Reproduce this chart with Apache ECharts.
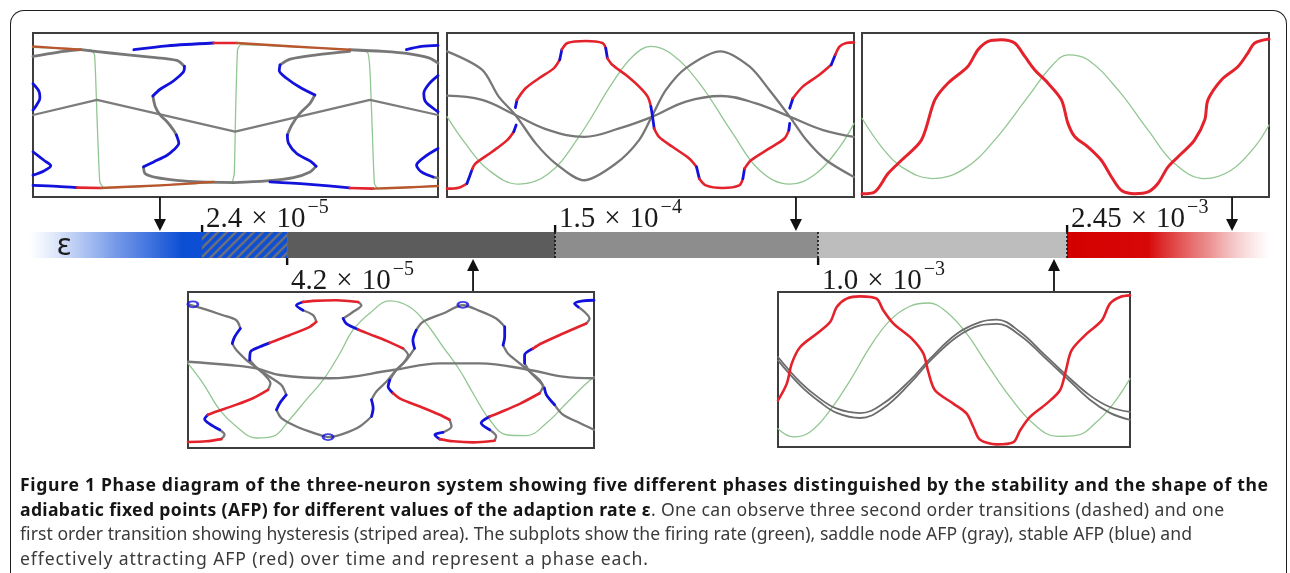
<!DOCTYPE html>
<html><head><meta charset="utf-8">
<script src="https://cdn.jsdelivr.net/npm/echarts@6/dist/echarts.min.js"></script>
<style>
html,body{margin:0;padding:0;background:#fff;}
#wrap{position:relative;width:1290px;height:573px;overflow:hidden;background:#fff;}
#chart{position:absolute;left:0;top:0;width:1290px;height:573px;}
#frame{position:absolute;left:10px;top:10px;width:1275px;height:600px;border:1.6px solid #1e1e1e;border-bottom:none;border-radius:14px 14px 0 0;pointer-events:none;}
#cap{position:absolute;left:20px;top:472px;font-family:'Noto Sans','Open Sans',sans-serif;font-size:16px;line-height:24.7px;color:#3a3a3a;white-space:nowrap;}
#cap .ln{display:table;height:24.7px;}
#cap b{color:#151515;}
</style></head><body>
<div id="wrap"><div id="chart"></div><div id="frame"></div>
<div id="cap">
<div class="ln" data-w="1248"><b>Figure 1 Phase diagram of the three-neuron system showing five different phases distinguished by the stability and the shape of the</b></div>
<div class="ln" data-w="1204"><b>adiabatic fixed points (AFP) for different values of the adaption rate ε</b>. One can observe three second order transitions (dashed) and one</div>
<div class="ln" data-w="1172">first order transition showing hysteresis (striped area). The subplots show the firing rate (green), saddle node AFP (gray), stable AFP (blue) and</div>
<div class="ln" data-w="628">effectively attracting AFP (red) over time and represent a phase each.</div>
</div></div>
<script>
// ---------------- DATA (time 0..100, value 0..100) ----------------
// Subplot 1 (top-left, eps below 2.4e-5)
const p1Green = [[0,91.2],[8.5,90.4],[14.2,89.8],[15.2,86.7],[15.8,49],[16.5,9.2],[17.5,5.7],[29.0,6.7],[44.6,8.8],[49.1,9.2],[49.7,14.3],[50.0,49],[50.5,89.8],[51.3,92.9],[65.9,91.4],[78.2,89.8],[82.6,88.2],[83.2,77.1],[83.8,38.8],[84.3,8.2],[85.2,5.1],[100,6.7]];
const p1Zigzag = [[0,50],[15.8,59.2],[49.9,39.8],[83.2,59.2],[100,50]];
const p1FoldL = [[11.7,89.8,'s'],[19.1,87.8,'k'],[29.0,85.3,'k'],[35.5,83.3,'k'],[37.4,79.6,'k'],[37.2,76.5,'b'],[35.5,72.4,'b'],[33.9,69.4,'b'],[31.4,65.7,'b'],[29.6,61.6,'b'],[30.2,55.1,'k'],[31.4,50,'k'],[33.1,45.9,'k'],[34.7,40.8,'k'],[35.4,37.8,'k'],[36.0,32.7,'b'],[34.7,28.6,'b'],[33.1,25.5,'b'],[29.8,21.4,'b'],[27.3,18.4,'b'],[27.7,14.3,'k'],[30.6,11.8,'k'],[35.5,10.2,'k'],[41.3,9.2,'k'],[49.5,8.8,'k']];
const p1FoldM = [[78.2,88.8,'s'],[70.0,86.7,'k'],[63.5,84.1,'k'],[61.0,80.6,'k'],[60.8,77.1,'b'],[62.6,72.4,'b'],[65.9,66.9,'b'],[69.6,62.2,'b'],[68.4,57.1,'k'],[65.9,51.0,'k'],[63.9,43.9,'k'],[62.8,37.8,'k'],[63.1,32.7,'b'],[65.1,26.5,'b'],[68.4,22.0,'b'],[69.9,18.8,'b'],[68.4,15.3,'k'],[64.3,11.8,'k'],[57.7,9.8,'k'],[49.5,8.8,'k']];
const p1GrayTopL = [[0,85.7,'s'],[6,88.2,'k'],[11.7,89.8,'k']];
const p1GrayTopR = [[78.2,89.8,'s'],[86.5,88.8,'k'],[93.0,87.3,'k'],[97.9,84.7,'k'],[100,81.6,'k']];
const p1EdgeL1 = [[0,69,'s'],[1.5,64.3,'b'],[1.7,60.2,'b'],[0.9,56.1,'b'],[0,53,'b']];
const p1EdgeL2 = [[0,27.6,'s'],[2.7,22.4,'b'],[4.4,19.0,'b'],[2.7,15.9,'b'],[0,13.3,'b']];
const p1EdgeR1 = [[100,74,'s'],[97.8,69,'b'],[96.5,63.3,'b'],[96.9,58.2,'b'],[98.8,54.1,'b'],[100,52,'b']];
const p1EdgeR2 = [[100,29.6,'s'],[96.7,24.5,'b'],[94.7,19.4,'b'],[95.9,15.3,'b'],[98.8,12.2,'b'],[100,11.5,'k']];
const p1Top = [[24.9,89.8,'s'],[33.1,92.2,'b'],[44.6,93.9,'b'],[50.3,93.9,'r'],[64.3,91.8,'o'],[78.2,89.8,'o']];
const p1TopL = [[0,91.8,'s'],[6.0,90.8,'o'],[11.7,89.8,'o']];
const p1TopR = [[92.2,89.8,'s'],[95.9,91.8,'b'],[100,92.4,'b']];
const p1Bottom = [[0,7.1,'s'],[6.0,6.5,'b'],[10.9,5.7,'b'],[16.7,5.5,'r'],[31.4,7.1,'o'],[44.6,9.2,'o']];
const p1Bottom2 = [[58.5,9.2,'s'],[67.6,7.8,'b'],[78.2,5.5,'b'],[84.0,5.1,'r'],[92,5.8,'o'],[100,6.7,'o']];

// Subplot 2 (top-middle)
const p2Green = [[0,49],[4.5,32.7],[10.3,16.3],[17.7,7.8],[25.0,14.3],[32.4,36.7],[40.6,69.4],[45.6,85.7],[50.1,91.8],[55.4,86.7],[62.0,69.4],[70.2,38.8],[76.8,16.3],[84.2,7.8],[90.7,14.3],[96.5,30.6],[100,44.9]];
const p2GrayA = [[0,88.8],[8.6,77.6],[12.7,61.2],[16.8,50],[21.8,32.7],[26.7,20.4],[33.7,10.2],[41.5,20.4],[47.2,34.7],[50.5,50],[53.8,65.3],[58.7,78.6],[67.2,88.8],[74.3,79.6],[79.2,65.3],[84.2,49],[88.3,34.7],[93.2,22.4],[100,12.2]];
const p2GrayB = [[0,61.8],[8.6,59.2],[16.8,50],[25.0,40.8],[33.7,36.7],[42.3,41.8],[50.5,49],[58.7,58.2],[67.3,61.6],[75.9,57.1],[84.2,49],[92.4,40.8],[100,36.7]];
const p2Afp1 = [[0,5.1,'s'],[2.9,5.7,'r'],[4.9,8.2,'r'],[5.5,12.2,'b'],[6.2,17,'b'],[7.0,20.4,'r'],[11.1,27.6,'r'],[14.8,34.7,'r'],[16.4,39.8,'r'],[17.0,43.9,'b']];
const p2Afp2 = [[16.8,54.5,'s'],[17.2,59.2,'b'],[19.3,66.3,'r'],[22.6,72.4,'r'],[26.3,78.6,'r'],[27.7,83.7,'r'],[28.2,89.8,'b'],[29.6,93.9,'r'],[34.1,95.1,'r'],[38.2,93.9,'r'],[39.0,90.8,'r'],[39.4,84.7,'b'],[40.6,80.6,'r'],[43.9,74.5,'r'],[47.2,67.3,'r'],[49.3,61.2,'r'],[50.1,55.1,'r'],[50.5,49.0,'b'],[50.9,41.8,'b'],[52.1,36.7,'r'],[55.4,30.6,'r'],[59.5,23.5,'r'],[61.3,18.4,'r'],[62.0,11.2,'b'],[63.6,7.1,'r'],[67.7,5.5,'r'],[71.8,7.1,'r'],[72.7,11.2,'r'],[73.1,17.3,'b'],[74.7,22.4,'r'],[79.2,29.6,'r'],[82.9,35.7,'r'],[84.0,40.8,'r'],[84.2,44.9,'b']];
const p2Afp3 = [[84.2,54.1,'s'],[85.0,60.2,'b'],[87.4,67.3,'r'],[91.5,74.5,'r'],[94.4,80.6,'r'],[95.4,86.7,'b'],[96.5,91.8,'r'],[98.1,93.9,'r'],[100,94.3,'r']];

// Subplot 3 (top-right)
const p3Green = [[0,48],[4.8,30.6],[9.7,18.4],[17.4,11.2],[25.2,17.3],[32.6,34.7],[40.8,61.2],[46.5,79.6],[50.6,86.7],[55.5,83.7],[62.9,65.3],[70.3,40.8],[76.8,20.4],[84.2,11.2],[90.7,16.3],[96.5,30.6],[100,43.9]];
const p3Red = [[0,2.0],[3.1,3.1],[6.4,14.3],[9.7,22.4],[14.6,34.7],[17.9,59.2],[21.1,69.4],[26.0,79.6],[28.5,89.8],[31.0,94.9],[34.2,95.9],[37.5,93.9],[40.0,85.7],[42.4,77.6],[45.7,69.4],[49.0,59.2],[50.6,44.9],[52.3,36.7],[55.5,30.6],[58.8,22.4],[61.3,12.2],[63.7,4.1],[67.0,2.0],[70.3,3.1],[72.7,8.2],[75.2,18.4],[78.5,26.5],[81.7,34.7],[84.2,46.9],[85.0,59.2],[88.3,71.4],[92.4,79.6],[94.8,87.8],[96.5,93.9],[100,96.3]];

// Subplot 4 (bottom-left)
const p4Green = [[0,54.3],[3.7,41.5],[7.8,24.5],[11.9,13.8],[16.8,6.4],[20.9,7.4],[25.0,18.1],[29.1,30.9],[33.3,43.6],[37.4,60.6],[40.6,75.5],[44.7,86.2],[49.7,94.3],[54.6,90.4],[58.7,79.8],[62.8,64.9],[66.9,50],[70.2,35.1],[74.3,18.1],[78.4,8.5],[83.3,7.9],[88.3,16.0],[93.2,28.7],[97.3,39.4],[100,45.7]];
const p4GrayFlat = [[0,55.3],[10.3,53.2],[16.8,51.1],[22.6,46.8],[34.9,44.7],[50.5,50],[62.0,54.3],[71.8,54.3],[84.2,50],[92.4,45.7],[100,44.7]];
const p4Afp = [[0,3.8,'s'],[4.5,4.3,'r'],[8.2,5.7,'r'],[9.0,8.5,'k'],[7.8,11.7,'k'],[5.3,15.5,'b'],[4.1,18.5,'b'],[4.9,21.3,'b'],[7.0,23.4,'r'],[11.1,27.0,'r'],[16.0,31.9,'r'],[19.7,37.2,'r'],[20.3,41.5,'k'],[18.9,46.8,'k'],[16.8,51.7,'k'],[15.2,56.4,'k'],[15.4,61.7,'b'],[17.7,64.9,'b'],[20.1,67.4,'b'],[25.0,72.3,'r'],[30.0,77.7,'r'],[31.6,80.9,'r'],[30.8,85.1,'k'],[28.3,88.3,'k'],[26.7,91.5,'b'],[28.3,93.6,'b'],[30.8,94.3,'r'],[36.5,94.7,'r'],[41.9,93.6,'r'],[42.7,91.5,'k'],[40.6,87.2,'k'],[38.2,83.0,'k'],[39.0,79.8,'b'],[41.9,76.0,'b'],[43.9,73.8,'r'],[48.9,68.7,'r'],[53.0,63.8,'r'],[54.2,59.6,'k'],[53.0,54.3,'k'],[51.3,50.0,'k'],[49.7,43.6,'k'],[49.3,39.4,'b'],[50.5,35.1,'b'],[52.5,31.3,'r'],[57.1,26.6,'r'],[62.0,21.3,'r'],[64.4,18.1,'r'],[64.9,13.8,'k'],[62.8,10.0,'k'],[60.8,8.5,'b'],[62.0,5.7,'b'],[65.3,4.3,'r'],[70.2,3.6,'r'],[75.5,4.7,'r'],[75.9,7.4,'k'],[74.3,11.7,'k'],[72.2,16.0,'b'],[74.3,20.2,'b'],[76.8,22.8,'r'],[81.7,28.3,'r'],[86.6,35.1,'r'],[87.4,39.4,'k'],[85.8,44.7,'k'],[84.2,48.9,'k'],[82.9,54.3,'k'],[82.9,59.6,'b'],[85.0,63.8,'b'],[87.0,67.0,'r'],[92.4,73.4,'r'],[98.1,79.8,'r'],[98.9,83.0,'k'],[97.7,87.2,'k'],[96.1,90.4,'k'],[95.2,92.6,'b'],[97.3,94.3,'b'],[100,94.7,'b']];
const p4Saddle = [[0,92.1,'s'],[3.7,89.4,'k'],[8.6,85.1,'k'],[11.9,81.9,'k'],[12.9,76.6,'k'],[11.5,71.3,'b'],[10.9,67.0,'b'],[11.9,62.8,'k'],[14.4,56.4,'k'],[16.8,51.7,'k'],[20.1,45.7,'k'],[23.0,40.4,'k'],[24.2,34.0,'k'],[22.6,28.7,'b'],[21.8,24.5,'b'],[23.0,19.1,'k'],[26.7,13.8,'k'],[31.6,9.1,'k'],[34.5,7.0,'k'],[38.2,9.1,'k'],[42.3,13.8,'k'],[45.2,20.2,'k'],[45.6,25.5,'b'],[45.2,30.9,'b'],[46.4,36.2,'k'],[48.9,42.6,'k'],[50.9,48.9,'k'],[53.8,56.4,'k'],[55.8,63.8,'k'],[55.4,69.1,'b'],[56.2,75.5,'b'],[57.9,80.9,'k'],[62.8,86.2,'k'],[67.7,91.5,'k'],[71.8,87.9,'k'],[75.9,83.0,'k'],[78.0,77.7,'k'],[78.0,71.3,'b'],[77.6,66.0,'b'],[78.8,60.6,'k'],[81.7,54.3,'k'],[84.2,48.9,'k'],[86.6,43.6,'k'],[87.8,38.3,'k'],[88.3,34.0,'b'],[90.3,27.7,'b'],[92.4,21.3,'k'],[96.5,16.0,'k'],[100,11.7,'k']];
const p4Loops = [[34.5,7.0],[67.7,91.8],[1.2,92.1]];

// Subplot 5 (bottom-right)
const p5Green = [[0,11.8],[4.4,6.5],[9.1,9.7],[14.8,23.7],[20.5,43.0],[26.1,64.5],[31.8,81.7],[37.5,90.8],[42.7,92.9],[47.9,87.1],[53.6,73.1],[59.3,53.8],[65.9,32.3],[72.5,15.1],[79.2,6.9],[84.8,7.5],[90.5,16.1],[95.3,28.0],[100,44.1]];
const p5Red = [[0,30.1],[2.5,40.9],[3.9,53.8],[6.3,64.5],[11.0,73.1],[14.8,80.6],[16.7,90.3],[19.5,95.7],[23.3,97.2],[28.0,95.7],[29.9,88.2],[32.8,79.6],[38.0,69.9],[41.3,60.2],[42.7,48.4],[44.6,36.6],[49.8,28.0],[53.6,21.5],[55.5,12.9],[57.4,4.7],[62.1,1.7],[66.9,3.2],[68.8,10.8],[71.6,19.4],[76.3,28.0],[80.1,36.6],[81.8,49.5],[83.4,62.4],[87.7,73.1],[92.0,81.7],[94.3,92.5],[97.2,96.8],[100,97.8]];
const p5Gray1 = [[0,58.1],[6.3,41.9],[11.9,31.2],[16.7,24.7],[23.3,21.9],[29.9,28.0],[37.5,43.0],[43.2,57.0],[50.8,73.1],[57.4,80.6],[62.1,82.2],[68.8,74.2],[75.4,60.2],[82.0,46.2],[88.6,33.3],[94.3,25.8],[100,22.6]];
const p5Gray2 = [[0,55.9],[6.3,39.8],[11.9,29.0],[16.7,22.0],[23.3,18.7],[29.9,25.0],[37.5,41.0],[43.2,55.5],[50.8,71.0],[57.4,78.5],[62.1,79.5],[68.8,72.0],[75.4,58.5],[82.0,44.5],[88.6,30.5],[94.3,22.0],[100,17.5]];

// Phase bar (schematic epsilon axis 0..100)
const phaseEdges = [0, 13.87, 20.73, 42.34, 63.55, 83.63, 100];
const transitionPos = [13.87, 20.73, 42.34, 63.55, 83.63];
const transitionMant = ['2.4', '4.2', '1.5', '1.0', '2.45'];
const transitionExp = ['−5', '−5', '−4', '−3', '−3'];
const transitionSide = [1, -1, 1, -1, 1];
const transitionDashed = [0, 0, 1, 1, 1];
const arrowPos = [10.48, 35.73, 61.77, 82.58, 96.94];
const arrowDir = [1, -1, 1, -1, 1];

// ---------------- STYLES / BUILD ----------------
const STY = {
  k:{color:'#777777', width:2.3, z:3},
  b:{color:'#1212dc', width:2.8, z:4},
  r:{color:'#e3222c', width:2.6, z:4},
  o:{color:'#b8562e', width:2.4, z:4},
  g:{color:'#92c692', width:1.3, z:2}
};
function mk(gi, data, c, smooth, ov) {
  const s = Object.assign({}, STY[c], ov || {});
  return {type:'line', xAxisIndex:gi, yAxisIndex:gi, data:data, symbol:'none', showSymbol:false,
    smooth:smooth, lineStyle:{color:s.color, width:s.width, cap:'round', join:'round'},
    z:s.z, silent:true, animation:false};
}
function pathSeries(gi, pts, smooth, ov) {
  const out = []; let run = null, col = null;
  for (let i = 1; i < pts.length; i++) {
    const c = pts[i][2];
    if (c !== col) { if (run) out.push(mk(gi, run, col, smooth, ov)); run = [[pts[i-1][0], pts[i-1][1]]]; col = c; }
    run.push([pts[i][0], pts[i][1]]);
  }
  if (run) out.push(mk(gi, run, col, smooth, ov));
  return out;
}

const gridBoxes = [
  {left:33, top:33, width:405, height:164},
  {left:447, top:33, width:407, height:164},
  {left:862, top:33, width:407, height:164},
  {left:188, top:292, width:406, height:156},
  {left:778, top:292, width:352, height:155}
];
const grids = gridBoxes.map(g => Object.assign({show:true, borderColor:'#3d3d3d', borderWidth:2, backgroundColor:'#fff', containLabel:false}, g));
grids.push({left:30, top:232, width:1240, height:26, show:false});
const xAxes = grids.map((g, i) => ({gridIndex:i, type:'value', min:0, max:100, show:false}));
const yAxes = grids.map((g, i) => ({gridIndex:i, type:'value', min:0, max:(i === 5 ? 1 : 100), show:false}));

let series = [];
// subplot 1
series.push(mk(0, p1Green, 'g', 0.15));
series.push(mk(0, p1Zigzag, 'k', false, {color:'#7c7c7c'}));
[p1FoldL, p1FoldM, p1GrayTopL, p1GrayTopR, p1EdgeL1, p1EdgeL2, p1EdgeR1, p1EdgeR2].forEach(p => series = series.concat(pathSeries(0, p, 0.3, {width:2.8})));
[p1Top, p1TopL, p1TopR, p1Bottom, p1Bottom2].forEach(p => series = series.concat(pathSeries(0, p, 0.3)));
// subplot 2
series.push(mk(1, p2Green, 'g', 0.4));
series.push(mk(1, p2GrayA, 'k', 0.3));
series.push(mk(1, p2GrayB, 'k', 0.4));
[p2Afp1, p2Afp2, p2Afp3].forEach(p => series = series.concat(pathSeries(1, p, 0.3)));
// subplot 3
series.push(mk(2, p3Green, 'g', 0.4));
series.push(mk(2, p3Red, 'r', 0.3, {width:3}));
// subplot 4
series.push(mk(3, p4Green, 'g', 0.4));
series.push(mk(3, p4GrayFlat, 'k', 0.4));
[p4Afp, p4Saddle].forEach(p => series = series.concat(pathSeries(3, p, 0.3)));
series.push({type:'scatter', xAxisIndex:3, yAxisIndex:3, data:p4Loops, symbol:'circle', symbolSize:[10,6],
  itemStyle:{color:'rgba(0,0,0,0)', borderColor:'#1212dc', borderWidth:2.2}, z:5, silent:true, animation:false});
// subplot 5
series.push(mk(4, p5Green, 'g', 0.4));
series.push(mk(4, p5Gray1, 'k', 0.4, {width:1.8, color:'#6c6c6c'}));
series.push(mk(4, p5Gray2, 'k', 0.4, {width:1.8, color:'#6c6c6c'}));
series.push(mk(4, p5Red, 'r', 0.3));

// hatch pattern for the hysteresis region
const pc = document.createElement('canvas'); pc.width = 9; pc.height = 9;
const cx = pc.getContext('2d');
cx.fillStyle = '#0d4fd4'; cx.fillRect(0,0,9,9);
cx.strokeStyle = '#6a6f7c'; cx.lineWidth = 2.6;
[[-1,10,10,-1],[-1,1,1,-1],[8,10,10,8]].forEach(l => { cx.beginPath(); cx.moveTo(l[0],l[1]); cx.lineTo(l[2],l[3]); cx.stroke(); });
const fills = [
  new echarts.graphic.LinearGradient(0,0,1,0,[{offset:0,color:'rgba(30,90,220,0)'},{offset:0.15,color:'rgba(30,90,220,0.15)'},{offset:0.5,color:'rgba(25,85,218,0.6)'},{offset:0.88,color:'#0d4fd4'},{offset:1,color:'#0d4fd4'}]),
  {image:pc, repeat:'repeat'},
  '#5c5c5c', '#8d8d8d', '#bdbdbd',
  new echarts.graphic.LinearGradient(0,0,1,0,[{offset:0,color:'#d40000'},{offset:0.4,color:'#d80808'},{offset:0.7,color:'rgba(222,70,70,0.6)'},{offset:1,color:'rgba(235,140,140,0)'}])
];
const phaseData = phaseEdges.slice(0, -1).map((e, i) => [e, phaseEdges[i+1], i]);
series.push({type:'custom', xAxisIndex:5, yAxisIndex:5, data:phaseData, silent:true, animation:false, z:2,
  renderItem: function(params, api) {
    const a = api.coord([api.value(0), 1]), b = api.coord([api.value(1), 0]);
    const i = api.value(2);
    const ch = [{type:'rect', shape:{x:a[0], y:a[1], width:b[0]-a[0], height:b[1]-a[1]}, style:{fill:fills[i]}}];
    if (i === 0) ch.push({type:'text', x:a[0]+27, y:(a[1]+b[1])/2+1, style:{text:'ε', fill:'#1c1c1c', font:'30px "Noto Sans"', align:'left', verticalAlign:'middle', textAlign:'left', textVerticalAlign:'middle'}});
    return {type:'group', children:ch};
  }});
const rich = {
  m:{fontFamily:'Liberation Serif', fontSize:29, lineHeight:36, verticalAlign:'bottom', fill:'#1a1a1a', color:'#1a1a1a'},
  t:{fontFamily:'Liberation Serif', fontSize:29, lineHeight:36, verticalAlign:'bottom', padding:[0,9,0,9], fill:'#1a1a1a', color:'#1a1a1a'},
  s:{fontFamily:'Liberation Serif', fontSize:20, lineHeight:22, verticalAlign:'top', padding:[0,0,0,2], fill:'#1a1a1a', color:'#1a1a1a'}
};
series.push({type:'custom', xAxisIndex:5, yAxisIndex:5, data:transitionPos.map((p, i) => [p, i]), silent:true, animation:false, z:5,
  renderItem: function(params, api) {
    const i = api.value(1);
    const x = api.coord([api.value(0), 0])[0];
    const top = api.coord([0, 1])[1], bot = api.coord([0, 0])[1];
    const ch = [];
    if (transitionDashed[i]) ch.push({type:'line', shape:{x1:x, y1:top, x2:x, y2:bot}, style:{stroke:'#111', lineWidth:1.6, lineDash:[2,2]}});
    const up = transitionSide[i] > 0;
    ch.push({type:'rect', shape:{x:x-1.1, y:up ? top-7 : bot, width:2.4, height:7}, style:{fill:'#111'}});
    ch.push({type:'text', x:x+4, y:up ? top+2 : bot+38, style:{
      text:'{m|' + transitionMant[i] + '}{t|×}{m|10}{s|' + transitionExp[i] + '}', rich:rich,
      align:'left', verticalAlign:'bottom', textAlign:'left', textVerticalAlign:'bottom'}});
    return {type:'group', children:ch};
  }});
series.push({type:'custom', xAxisIndex:5, yAxisIndex:5, data:arrowPos.map((p, i) => [p, arrowDir[i]]), silent:true, animation:false, z:6,
  renderItem: function(params, api) {
    const x = api.coord([api.value(0), 0])[0];
    const top = api.coord([0, 1])[1], bot = api.coord([0, 0])[1];
    const d = api.value(1);
    let tail, tip, base;
    if (d > 0) { tail = top - 35; tip = top - 1; base = tip - 12; }
    else { tail = bot + 33; tip = bot + 1; base = tip + 12; }
    return {type:'group', children:[
      {type:'line', shape:{x1:x, y1:tail, x2:x, y2:base}, style:{stroke:'#111', lineWidth:1.8}},
      {type:'polygon', shape:{points:[[x-6, base], [x+6, base], [x, tip]]}, style:{fill:'#111'}}
    ]};
  }});

const chart = echarts.init(document.getElementById('chart'), null, {renderer:'canvas'});
chart.setOption({animation:false, backgroundColor:'transparent', grid:grids, xAxis:xAxes, yAxis:yAxes, series:series});

// fit caption lines to the widths seen in the figure (font size first, then letter spacing)
function fitCaption() {
  document.querySelectorAll('#cap .ln').forEach(el => {
    el.style.letterSpacing = '0px'; el.style.fontSize = '16px';
    const target = +el.dataset.w;
    let w = el.getBoundingClientRect().width;
    let fs = 16 * target / w;
    fs = Math.max(15.5, Math.min(17.6, fs));
    el.style.fontSize = fs.toFixed(2) + 'px';
    w = el.getBoundingClientRect().width;
    const n = el.textContent.length - 1;
    el.style.letterSpacing = ((target - w) / n).toFixed(3) + 'px';
  });
}
fitCaption();
if (document.fonts && document.fonts.ready) document.fonts.ready.then(fitCaption);
</script>
</body></html>
